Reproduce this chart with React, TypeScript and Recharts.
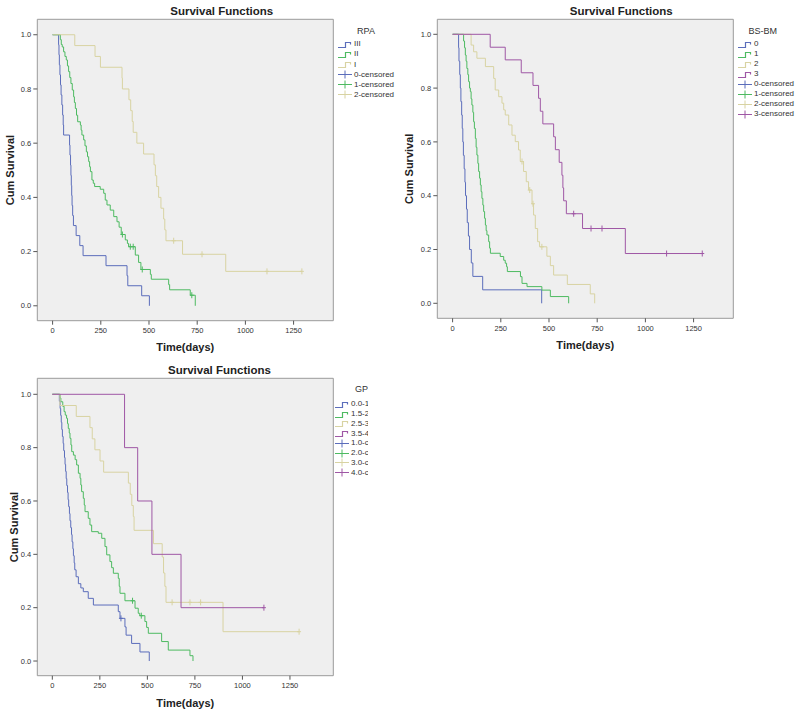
import React from 'react';
import { ComposedChart, Line, Scatter, XAxis, YAxis, CartesianGrid } from 'recharts';

type Pt = [number, number];

// ---- RPA panel ----
const rpaIII: Pt[] = [
  [0, 1], [31, 0.963], [33, 0.926], [35, 0.889], [38, 0.852], [41, 0.815], [44, 0.778], [48, 0.741],
  [52, 0.704], [55, 0.667], [57, 0.63], [88, 0.593], [90, 0.556], [93, 0.519], [95, 0.481], [97, 0.444],
  [99, 0.407], [101, 0.37], [104, 0.333], [108, 0.296], [122, 0.259], [141, 0.222], [158, 0.185],
  [277, 0.148], [386, 0.111], [390, 0.074], [462, 0.037], [502, 0],
];
const rpaII: Pt[] = [
  [0, 1], [40, 0.982], [45, 0.964], [50, 0.955], [57, 0.937], [64, 0.92], [71, 0.907], [77, 0.885],
  [83, 0.864], [89, 0.842], [95, 0.82], [102, 0.796], [109, 0.771], [113, 0.75], [118, 0.728],
  [124, 0.703], [130, 0.679], [144, 0.667], [148, 0.648], [152, 0.63], [161, 0.612], [168, 0.59],
  [175, 0.568], [181, 0.55], [187, 0.532], [192, 0.513], [196, 0.495], [204, 0.464], [211, 0.452],
  [218, 0.44], [247, 0.43], [265, 0.415], [273, 0.39], [282, 0.372], [299, 0.353], [317, 0.329],
  [334, 0.31], [345, 0.29], [356, 0.263], [377, 0.243], [388, 0.23], [394, 0.218], [429, 0.187],
  [446, 0.16], [458, 0.134], [507, 0.116], [512, 0.098], [602, 0.078], [607, 0.059], [714, 0.039],
  [740, 0],
];
const rpaI: Pt[] = [
  [0, 1], [115, 0.96], [220, 0.92], [248, 0.88], [360, 0.84], [362, 0.8], [396, 0.76], [405, 0.72],
  [413, 0.68], [418, 0.64], [437, 0.6], [472, 0.56], [526, 0.52], [533, 0.48], [540, 0.44], [550, 0.4],
  [562, 0.36], [576, 0.32], [582, 0.28], [588, 0.24], [674, 0.19], [898, 0.127], [1293, 0.127],
];
const rpaIIICens: Pt[] = [];
const rpaIICens: Pt[] = [[362, 0.263], [403, 0.218], [418, 0.218], [465, 0.134], [722, 0.039]];
const rpaICens: Pt[] = [[628, 0.24], [775, 0.19], [1112, 0.127], [1293, 0.127]];
const rpaLabels = ['III', 'II', 'I'];
const rpaCensLabels = ['0-censored', '1-censored', '2-censored'];

// ---- BS-BM panel ----
const bsbm0: Pt[] = [
  [0, 1], [31, 0.95], [33, 0.9], [37, 0.85], [40, 0.8], [43, 0.75], [47, 0.7], [50, 0.65], [53, 0.6],
  [56, 0.55], [60, 0.5], [64, 0.45], [67, 0.4], [72, 0.35], [76, 0.3], [82, 0.25], [88, 0.2], [97, 0.15],
  [105, 0.1], [156, 0.05], [462, 0],
];
const bsbm1: Pt[] = [
  [0, 1], [57, 0.975], [62, 0.95], [66, 0.923], [70, 0.9], [74, 0.873], [79, 0.85], [83, 0.824],
  [88, 0.8], [92, 0.787], [96, 0.76], [100, 0.737], [105, 0.71], [109, 0.675], [113, 0.65], [118, 0.613],
  [122, 0.58], [126, 0.551], [131, 0.52], [135, 0.49], [140, 0.465], [144, 0.44], [148, 0.415],
  [152, 0.39], [157, 0.365], [161, 0.341], [166, 0.316], [170, 0.291], [174, 0.27], [178, 0.254],
  [187, 0.229], [192, 0.205], [196, 0.186], [247, 0.174], [265, 0.16], [273, 0.149], [280, 0.136],
  [284, 0.118], [352, 0.099], [360, 0.074], [386, 0.062], [463, 0.049], [507, 0.025], [602, 0],
];
const bsbm2: Pt[] = [
  [0, 1], [96, 0.96], [109, 0.935], [126, 0.911], [170, 0.88], [213, 0.836], [221, 0.793], [239, 0.768],
  [256, 0.744], [265, 0.719], [273, 0.7], [291, 0.663], [308, 0.625], [325, 0.601], [342, 0.57],
  [351, 0.527], [368, 0.49], [382, 0.452], [394, 0.421], [412, 0.37], [420, 0.328], [429, 0.278],
  [441, 0.229], [451, 0.21], [489, 0.175], [507, 0.14], [524, 0.105], [595, 0.07], [714, 0.035], [737, 0],
];
const bsbm3: Pt[] = [
  [0, 1], [195, 0.952], [273, 0.905], [356, 0.857], [417, 0.81], [446, 0.762], [455, 0.714], [468, 0.667],
  [524, 0.619], [533, 0.571], [553, 0.524], [567, 0.476], [572, 0.429], [576, 0.381], [590, 0.333],
  [674, 0.278], [896, 0.185], [1295, 0.185],
];
const bsbm0Cens: Pt[] = [];
const bsbm1Cens: Pt[] = [];
const bsbm2Cens: Pt[] = [[360, 0.527], [400, 0.421], [417, 0.37], [463, 0.21]];
const bsbm3Cens: Pt[] = [[628, 0.333], [718, 0.278], [775, 0.278], [1110, 0.185], [1295, 0.185]];
const bsbmLabels = ['0', '1', '2', '3'];
const bsbmCensLabels = ['0-censored', '1-censored', '2-censored', '3-censored'];

// ---- GPA panel ----
const gpa1: Pt[] = [
  [0, 1], [37, 0.974], [41, 0.947], [44, 0.921], [47, 0.895], [50, 0.868], [53, 0.842], [57, 0.816],
  [60, 0.789], [64, 0.763], [67, 0.737], [70, 0.711], [73, 0.684], [76, 0.658], [80, 0.632], [83, 0.605],
  [86, 0.579], [90, 0.553], [93, 0.526], [97, 0.5], [101, 0.474], [104, 0.447], [108, 0.421],
  [111, 0.395], [115, 0.368], [118, 0.342], [125, 0.316], [137, 0.29], [150, 0.274], [163, 0.26],
  [189, 0.235], [216, 0.21], [347, 0.185], [356, 0.16], [382, 0.128], [388, 0.097], [417, 0.066],
  [461, 0.034], [510, 0],
];
const gpa2: Pt[] = [
  [0, 1], [41, 0.986], [45, 0.972], [55, 0.955], [62, 0.935], [68, 0.922], [75, 0.91], [80, 0.89],
  [84, 0.872], [89, 0.855], [93, 0.835], [98, 0.81], [102, 0.785], [111, 0.772], [120, 0.755],
  [128, 0.735], [137, 0.704], [146, 0.685], [150, 0.66], [154, 0.635], [163, 0.61], [168, 0.585],
  [172, 0.56], [189, 0.535], [198, 0.51], [207, 0.485], [242, 0.479], [260, 0.46], [277, 0.429],
  [286, 0.398], [303, 0.373], [312, 0.35], [321, 0.329], [347, 0.31], [352, 0.28], [356, 0.254],
  [382, 0.226], [435, 0.198], [452, 0.179], [460, 0.17], [487, 0.148], [496, 0.126], [505, 0.104],
  [575, 0.073], [610, 0.041], [724, 0.02], [740, 0],
];
const gpa3: Pt[] = [
  [0, 1], [40, 0.958], [126, 0.917], [198, 0.875], [210, 0.833], [224, 0.792], [251, 0.75], [270, 0.708],
  [400, 0.667], [410, 0.625], [418, 0.583], [426, 0.542], [430, 0.49], [532, 0.44], [578, 0.39],
  [585, 0.33], [592, 0.28], [598, 0.22], [898, 0.11], [1298, 0.11],
];
const gpa4: Pt[] = [[0, 1], [380, 0.8], [449, 0.6], [524, 0.4], [677, 0.2], [1113, 0.2]];
const gpa1Cens: Pt[] = [[361, 0.16]];
const gpa2Cens: Pt[] = [[422, 0.226], [468, 0.17]];
const gpa3Cens: Pt[] = [[630, 0.22], [724, 0.22], [780, 0.22], [1298, 0.11]];
const gpa4Cens: Pt[] = [[1113, 0.2]];
const gpaLabels = ['0.0-1', '1.5-2', '2.5-3', '3.5-4'];
const gpaCensLabels = ['1.0-c', '2.0-c', '3.0-c', '4.0-c'];

const xTicks = [0, 250, 500, 750, 1000, 1250];
const yTicks = [0, 0.2, 0.4, 0.6, 0.8, 1.0];

const BLUE = '#5b6dbb';
const GREEN = '#4dba61';
const TAN = '#d8d3a2';
const PURPLE = '#9f57a5';
const FONT = '"Liberation Sans", Arial, sans-serif';

const rows = (pts: Pt[]) => pts.map(([t, s]) => ({ t, s }));

type Series = { pts: Pt[]; cens: Pt[]; color: string };

const CensorMark = (props: any) => {
  const { cx, cy, fill } = props;
  if (cx == null || cy == null) return null;
  return (
    <g stroke={fill} strokeWidth={1}>
      <line x1={cx} y1={cy - 3} x2={cx} y2={cy + 3} />
      <line x1={cx - 2} y1={cy} x2={cx + 2} y2={cy} />
    </g>
  );
};

// legend glyphs: step for the curves, cross for the censored marks
const StepIcon = ({ color }: { color: string }) => (
  <svg width={14} height={9} style={{ display: 'block', flexShrink: 0 }}>
    <path d="M0,7.5 H7.5 V2.5 H12.5 V4.5" fill="none" stroke={color} strokeWidth={1.2} />
  </svg>
);

const CrossIcon = ({ color }: { color: string }) => (
  <svg width={14} height={9} style={{ display: 'block', flexShrink: 0 }}>
    <path d="M0,4.5 H14 M7,0.5 V8.5" fill="none" stroke={color} strokeWidth={1} />
  </svg>
);

type PanelProps = {
  left: number;
  top: number;
  width: number;
  height: number;
  clipWidth: number;
  marginTop: number;
  xAxisHeight: number;
  xDomain: [number, number];
  yDomain: [number, number];
  series: Series[];
  titleCx: number;
  titleCy: number;
  yLabelX: number;
  xLabelDy: number;
  legendTitle: string;
  legendTitleCx: number;
  legendTitleCy: number;
  stepLabels: string[];
  censLabels: string[];
  legendX: number;
  legendY0: number;
  legendStep: number;
};

const Panel = (p: PanelProps) => {
  const labels = [
    ...p.stepLabels.map((l, i) => ({ l, c: p.series[i].color, step: true })),
    ...p.censLabels.map((l, i) => ({ l, c: p.series[i].color, step: false })),
  ];
  return (
    <div
      style={{
        position: 'absolute',
        left: p.left,
        top: p.top,
        width: p.clipWidth,
        height: p.height,
        overflow: 'hidden',
      }}
    >
      <ComposedChart
        width={p.width}
        height={p.height}
        margin={{ top: p.marginTop, right: p.width - 333.3, bottom: 0, left: 0 }}
      >
        <CartesianGrid
          fill="#efefef"
          stroke="#9a9a9a"
          horizontalCoordinatesGenerator={({ offset }: any) => [offset.top, offset.top + offset.height]}
          verticalCoordinatesGenerator={({ offset }: any) => [offset.left, offset.left + offset.width]}
        />
        <XAxis
          dataKey="t"
          type="number"
          domain={p.xDomain}
          ticks={xTicks}
          allowDataOverflow
          height={p.xAxisHeight}
          axisLine={false}
          tickLine={{ stroke: '#555' }}
          tickSize={4}
          tickMargin={3}
          tick={{ fontSize: 7.5, fill: '#333', fontFamily: FONT }}
          label={{
            content: ({ viewBox }: any) => (
              <text
                x={viewBox.x + viewBox.width / 2}
                y={viewBox.y + p.xLabelDy}
                textAnchor="middle"
                fontSize={11}
                fontWeight="bold"
                fontFamily={FONT}
                fill="#222"
              >
                Time(days)
              </text>
            ),
          }}
        />
        <YAxis
          dataKey="s"
          type="number"
          domain={p.yDomain}
          ticks={yTicks}
          allowDataOverflow
          width={37.3}
          axisLine={false}
          tickLine={{ stroke: '#555' }}
          tickSize={4}
          tickMargin={2}
          tickFormatter={(v: number) => v.toFixed(1)}
          tick={{ fontSize: 7.5, fill: '#333', fontFamily: FONT }}
          label={{
            content: ({ viewBox }: any) => {
              const cy = viewBox.y + viewBox.height / 2;
              return (
                <text
                  x={p.yLabelX}
                  y={cy}
                  transform={`rotate(-90, ${p.yLabelX}, ${cy})`}
                  textAnchor="middle"
                  fontSize={11}
                  fontWeight="bold"
                  fontFamily={FONT}
                  fill="#222"
                >
                  Cum Survival
                </text>
              );
            },
          }}
        />
        {p.series.map((s, i) => (
          <Line
            key={`l${i}`}
            data={rows(s.pts)}
            dataKey="s"
            type="stepAfter"
            stroke={s.color}
            strokeWidth={1}
            dot={false}
            activeDot={false}
            isAnimationActive={false}
          />
        ))}
        {p.series.map((s, i) =>
          s.cens.length ? (
            <Scatter
              key={`c${i}`}
              data={rows(s.cens)}
              dataKey="s"
              fill={s.color}
              shape={CensorMark}
              isAnimationActive={false}
            />
          ) : null
        )}
      </ComposedChart>
      <div
        style={{
          position: 'absolute',
          left: p.titleCx - 150,
          width: 300,
          top: p.titleCy - 7,
          lineHeight: '14px',
          textAlign: 'center',
          fontFamily: FONT,
          fontWeight: 'bold',
          fontSize: 11.5,
          color: '#222',
        }}
      >
        Survival Functions
      </div>
      <div
        style={{
          position: 'absolute',
          left: p.legendTitleCx - 30,
          width: 60,
          top: p.legendTitleCy - 6,
          lineHeight: '12px',
          textAlign: 'center',
          fontFamily: FONT,
          fontSize: 9,
          color: '#333',
        }}
      >
        {p.legendTitle}
      </div>
      {labels.map((e, i) => (
        <div
          key={e.l + i}
          style={{
            position: 'absolute',
            left: p.legendX,
            top: p.legendY0 + i * p.legendStep - 5,
            height: 10,
            display: 'flex',
            alignItems: 'center',
            fontFamily: FONT,
            fontSize: 8,
            color: '#333',
            whiteSpace: 'nowrap',
          }}
        >
          {e.step ? <StepIcon color={e.c} /> : <CrossIcon color={e.c} />}
          <span style={{ marginLeft: 2, lineHeight: '10px' }}>{e.l}</span>
        </div>
      ))}
    </div>
  );
};

export default function App() {
  return (
    <div style={{ position: 'absolute', left: 0, top: 0, width: 800, height: 713, background: '#fff' }}>
      <Panel
        left={0}
        top={0}
        width={400}
        height={355}
        clipWidth={400}
        marginTop={19.3}
        xAxisHeight={34.3}
        xDomain={[-79.4, 1456]}
        yDomain={[-0.055, 1.057]}
        series={[
          { pts: rpaIII, cens: rpaIIICens, color: BLUE },
          { pts: rpaII, cens: rpaIICens, color: GREEN },
          { pts: rpaI, cens: rpaICens, color: TAN },
        ]}
        titleCx={221.7}
        titleCy={10.7}
        yLabelX={13.5}
        xLabelDy={30}
        legendTitle="RPA"
        legendTitleCx={366}
        legendTitleCy={30.7}
        stepLabels={rpaLabels}
        censLabels={rpaCensLabels}
        legendX={338}
        legendY0={44.3}
        legendStep={10.1}
      />
      <Panel
        left={400}
        top={0}
        width={400}
        height={355}
        clipWidth={400}
        marginTop={19.3}
        xAxisHeight={36.7}
        xDomain={[-79.4, 1456]}
        yDomain={[-0.0558, 1.0558]}
        series={[
          { pts: bsbm0, cens: bsbm0Cens, color: BLUE },
          { pts: bsbm1, cens: bsbm1Cens, color: GREEN },
          { pts: bsbm2, cens: bsbm2Cens, color: TAN },
          { pts: bsbm3, cens: bsbm3Cens, color: PURPLE },
        ]}
        titleCx={221.3}
        titleCy={10.7}
        yLabelX={13.5}
        xLabelDy={30.5}
        legendTitle="BS-BM"
        legendTitleCx={362.8}
        legendTitleCy={31}
        stepLabels={bsbmLabels}
        censLabels={bsbmCensLabels}
        legendX={338}
        legendY0={44.3}
        legendStep={10}
      />
      <Panel
        left={0}
        top={355}
        width={400}
        height={358}
        clipWidth={368}
        marginTop={23.3}
        xAxisHeight={37.3}
        xDomain={[-79, 1478]}
        yDomain={[-0.055, 1.06]}
        series={[
          { pts: gpa1, cens: gpa1Cens, color: BLUE },
          { pts: gpa2, cens: gpa2Cens, color: GREEN },
          { pts: gpa3, cens: gpa3Cens, color: TAN },
          { pts: gpa4, cens: gpa4Cens, color: PURPLE },
        ]}
        titleCx={219.5}
        titleCy={15}
        yLabelX={18}
        xLabelDy={31.5}
        legendTitle="GP"
        legendTitleCx={361.5}
        legendTitleCy={34.3}
        stepLabels={gpaLabels}
        censLabels={gpaCensLabels}
        legendX={335}
        legendY0={49.3}
        legendStep={9.75}
      />
    </div>
  );
}
